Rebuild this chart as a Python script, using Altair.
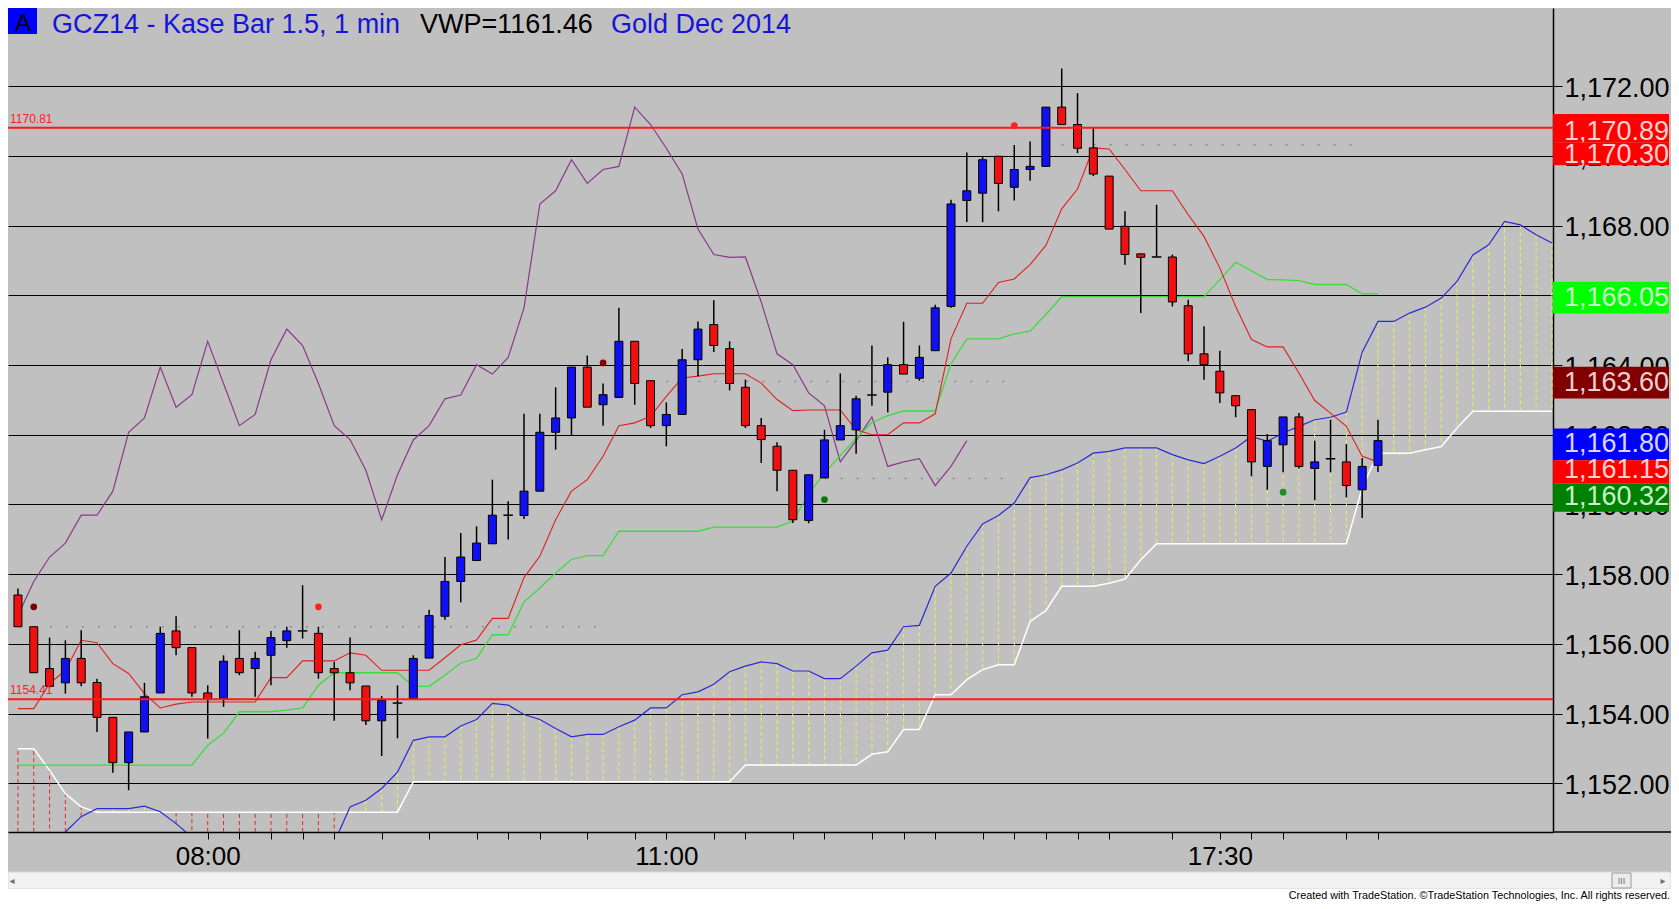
import altair as alt
import pandas as pd

# ---------------- data ----------------
opens = [1157.40, 1156.49, 1155.29, 1154.88, 1155.58, 1154.89, 1153.89, 1152.59, 1153.47, 1154.59,
         1156.37, 1155.89, 1154.59, 1154.43, 1155.58, 1155.29, 1155.67, 1156.09, 1156.37, 1156.30,
         1155.29, 1155.17, 1154.79, 1153.79, 1154.30, 1154.43, 1155.59, 1156.79, 1157.79, 1158.39,
         1158.87, 1159.69, 1159.68, 1160.38, 1162.07, 1162.48, 1163.94, 1162.86, 1163.07, 1164.68,
         1163.55, 1162.26, 1162.58, 1164.15, 1165.16, 1164.47, 1163.36, 1162.26, 1161.67, 1160.98,
         1159.54, 1160.76, 1161.85, 1162.14, 1163.14, 1163.22, 1164.01, 1163.62, 1164.41, 1165.68,
         1168.72, 1168.93, 1169.99, 1169.10, 1169.61, 1169.70, 1171.40, 1170.90, 1170.23, 1169.42,
         1167.98, 1167.19, 1167.10, 1167.10, 1165.70, 1164.32, 1163.82, 1163.12, 1162.72, 1161.09,
         1161.71, 1162.51, 1161.03, 1161.31, 1161.22, 1160.42, 1161.12]
highs = [1157.59, 1156.49, 1156.18, 1156.10, 1156.39, 1155.00, 1153.89, 1153.47, 1154.88, 1156.49,
         1156.79, 1155.89, 1154.81, 1155.67, 1156.39, 1155.77, 1156.37, 1156.49, 1157.68, 1156.49,
         1155.48, 1156.18, 1154.79, 1154.50, 1154.81, 1155.67, 1156.98, 1158.49, 1159.18, 1159.37,
         1160.71, 1160.09, 1162.60, 1162.60, 1163.36, 1163.94, 1164.27, 1163.47, 1165.64, 1164.68,
         1163.55, 1162.93, 1164.46, 1165.25, 1165.86, 1164.68, 1163.58, 1162.48, 1161.78, 1160.98,
         1160.85, 1162.14, 1163.76, 1163.12, 1164.56, 1164.22, 1165.24, 1164.56, 1165.73, 1168.74,
         1170.10, 1170.00, 1169.99, 1170.31, 1170.41, 1171.40, 1172.51, 1171.80, 1170.80, 1169.42,
         1168.41, 1167.19, 1168.60, 1167.17, 1165.87, 1165.11, 1164.41, 1163.12, 1162.72, 1162.02,
         1162.51, 1162.62, 1161.83, 1162.43, 1161.73, 1161.33, 1162.43]
lows = [1156.49, 1155.17, 1154.75, 1154.57, 1154.78, 1153.47, 1152.30, 1151.80, 1153.47, 1154.59,
        1155.67, 1154.48, 1153.28, 1154.19, 1155.10, 1154.48, 1154.81, 1155.89, 1156.15, 1155.00,
        1153.79, 1154.67, 1153.67, 1152.78, 1153.29, 1154.43, 1155.59, 1156.69, 1157.19, 1158.39,
        1158.87, 1158.99, 1159.58, 1160.38, 1161.57, 1161.98, 1162.79, 1162.26, 1163.07, 1162.86,
        1162.19, 1161.67, 1162.58, 1163.68, 1164.37, 1163.27, 1162.19, 1161.19, 1160.38, 1159.47,
        1159.46, 1160.76, 1161.85, 1161.45, 1162.83, 1162.64, 1163.74, 1163.55, 1164.41, 1165.64,
        1168.10, 1168.10, 1168.41, 1168.72, 1169.29, 1169.70, 1170.90, 1170.08, 1169.42, 1167.90,
        1166.88, 1165.49, 1167.10, 1165.68, 1164.11, 1163.58, 1162.91, 1162.50, 1160.81, 1160.42,
        1160.92, 1161.03, 1160.12, 1160.92, 1160.20, 1159.61, 1160.93]
closes = [1156.49, 1155.17, 1154.78, 1155.58, 1154.88, 1153.89, 1152.59, 1153.47, 1154.48, 1156.30,
          1155.89, 1154.59, 1154.40, 1155.50, 1155.17, 1155.58, 1156.18, 1156.37, 1156.37, 1155.17,
          1155.17, 1154.88, 1153.79, 1154.38, 1154.30, 1155.58, 1156.81, 1157.79, 1158.49, 1158.89,
          1159.69, 1159.69, 1160.38, 1162.07, 1162.48, 1163.94, 1162.79, 1163.15, 1164.68, 1163.47,
          1162.26, 1162.58, 1164.15, 1165.03, 1164.56, 1163.47, 1162.26, 1161.86, 1160.98, 1159.56,
          1160.85, 1161.85, 1162.26, 1163.03, 1163.14, 1164.01, 1163.74, 1164.22, 1165.64, 1168.62,
          1169.00, 1169.89, 1169.21, 1169.61, 1169.70, 1171.40, 1170.90, 1170.22, 1169.48, 1167.90,
          1167.17, 1167.09, 1167.10, 1165.81, 1164.32, 1164.01, 1163.20, 1162.83, 1161.22, 1161.83,
          1162.51, 1161.09, 1161.22, 1161.31, 1160.54, 1161.09, 1161.83]

tenkan = [1154.14, 1154.14, 1154.86, 1155.24, 1156.10, 1156.03, 1155.43, 1155.15, 1154.57, 1154.16,
          1154.27, 1154.33, 1154.33, 1154.33, 1154.33, 1154.33, 1155.03, 1155.03, 1155.51, 1155.51,
          1155.51, 1155.74, 1155.67, 1155.24, 1155.24, 1155.24, 1155.24, 1155.60, 1155.97, 1156.11,
          1156.73, 1156.73, 1157.90, 1158.51, 1159.56, 1160.38, 1160.71, 1161.38, 1162.26, 1162.34,
          1162.53, 1163.10, 1163.63, 1163.68, 1163.75, 1163.75, 1163.75, 1163.48, 1163.01, 1162.69,
          1162.71, 1162.71, 1162.71, 1162.14, 1162.00, 1162.00, 1162.34, 1162.34, 1162.60, 1164.75,
          1165.77, 1165.77, 1166.37, 1166.47, 1166.88, 1167.43, 1168.48, 1169.05, 1170.23, 1170.20,
          1169.61, 1169.00, 1169.00, 1169.00, 1168.31, 1167.69, 1166.78, 1165.68, 1164.73, 1164.52,
          1164.52, 1163.77, 1162.98, 1162.62, 1162.24, 1161.38, 1161.22]
kijun = [1152.52, 1152.52, 1152.52, 1152.52, 1152.52, 1152.52, 1152.52, 1152.52, 1152.52, 1152.52,
         1152.52, 1152.52, 1153.09, 1153.43, 1154.05, 1154.05, 1154.05, 1154.10, 1154.16, 1154.81,
         1155.17, 1155.17, 1155.17, 1155.17, 1155.17, 1154.78, 1154.78, 1155.10, 1155.45, 1155.58,
         1156.26, 1156.26, 1157.20, 1157.60, 1158.03, 1158.42, 1158.53, 1158.53, 1159.23, 1159.23,
         1159.23, 1159.23, 1159.23, 1159.23, 1159.35, 1159.35, 1159.35, 1159.35, 1159.35, 1159.52,
         1160.30, 1160.90, 1161.40, 1161.90, 1162.35, 1162.55, 1162.68, 1162.68, 1162.68, 1164.03,
         1164.75, 1164.75, 1164.75, 1164.89, 1164.97, 1165.45, 1165.96, 1165.96, 1165.96, 1165.96,
         1165.96, 1165.96, 1165.96, 1165.96, 1165.96, 1165.96, 1166.45, 1166.95, 1166.70, 1166.45,
         1166.44, 1166.42, 1166.31, 1166.31, 1166.31, 1166.04, 1166.04]
span_a = [1150.20, 1150.20, 1150.30, 1150.60, 1151.04, 1151.27, 1151.27, 1151.27, 1151.34, 1151.18,
          1150.84, 1150.45, 1150.40, 1150.40, 1150.40, 1150.40, 1150.40, 1150.40, 1150.40, 1150.40,
          1150.30, 1151.32, 1151.51, 1151.85, 1152.32, 1153.23, 1153.33, 1153.33, 1153.64, 1153.83,
          1154.29, 1154.24, 1153.97, 1153.83, 1153.57, 1153.33, 1153.40, 1153.40, 1153.62, 1153.81,
          1154.16, 1154.16, 1154.54, 1154.62, 1154.84, 1155.20, 1155.36, 1155.48, 1155.43, 1155.22,
          1155.22, 1155.00, 1155.00, 1155.36, 1155.74, 1155.82, 1156.49, 1156.53, 1157.65, 1158.03,
          1158.80, 1159.44, 1159.68, 1160.04, 1160.77, 1160.85, 1160.99, 1161.19, 1161.47, 1161.52,
          1161.62, 1161.62, 1161.62, 1161.43, 1161.28, 1161.17, 1161.38, 1161.62, 1161.95, 1161.81,
          1162.05, 1162.24, 1162.43, 1162.50, 1162.65, 1164.37, 1165.25, 1165.25, 1165.49, 1165.66,
          1165.92, 1166.40, 1167.16, 1167.45, 1168.12, 1168.02, 1167.74, 1167.50]
span_b = [1152.99, 1152.99, 1152.37, 1151.70, 1151.32, 1151.17, 1151.17, 1151.17, 1151.17, 1151.17,
          1151.17, 1151.17, 1151.17, 1151.17, 1151.17, 1151.17, 1151.17, 1151.17, 1151.17, 1151.17,
          1151.17, 1151.17, 1151.17, 1151.17, 1151.17, 1152.04, 1152.04, 1152.04, 1152.04, 1152.04,
          1152.04, 1152.04, 1152.04, 1152.04, 1152.04, 1152.04, 1152.04, 1152.04, 1152.04, 1152.04,
          1152.04, 1152.04, 1152.04, 1152.04, 1152.04, 1152.04, 1152.52, 1152.52, 1152.52, 1152.52,
          1152.52, 1152.52, 1152.52, 1152.52, 1152.83, 1152.90, 1153.54, 1153.54, 1154.54, 1154.54,
          1154.97, 1155.26, 1155.40, 1155.40, 1156.64, 1156.95, 1157.65, 1157.65, 1157.65, 1157.74,
          1157.86, 1158.41, 1158.87, 1158.87, 1158.87, 1158.87, 1158.87, 1158.87, 1158.87, 1158.87,
          1158.87, 1158.87, 1158.87, 1158.87, 1158.87, 1160.47, 1161.47, 1161.47, 1161.47, 1161.57,
          1161.66, 1162.19, 1162.67, 1162.67, 1162.67, 1162.67, 1162.67, 1162.67]
lag_bars = 26  # lagging span = close drawn 26 bars back

tick_bars = [12, 14, 16, 18, 20, 23, 26, 29, 31, 33, 36, 39, 41, 44, 46, 49, 51, 54, 56, 58,
             61, 63, 65, 67, 69, 73, 76, 78, 80, 84, 86]
time_label_bars = [12, 41, 76]
time_labels = ["08:00", "11:00", "17:30"]
price_ticks = [1152, 1154, 1156, 1158, 1160, 1162, 1164, 1166, 1168, 1170, 1172]

level_prices = [1170.81, 1154.41]
level_labels = ["1170.81", "1154.41"]

dot_levels = [1156.49, 1163.53, 1160.74, 1170.32]
dot_from = [0, 41, 50, 66]
dot_to = [37, 63, 63, 85]

marker_bars = [1, 19, 37, 51, 63, 80]
marker_prices = [1157.06, 1157.06, 1164.06, 1160.14, 1170.87, 1160.35]
marker_colors = ["#7a0000", "#ff2020", "#8a0000", "#007a00", "#ff2020", "#1f8f1f"]

tag_texts = ["1,170.89", "1,170.30", "1,166.05", "1,163.60", "1,161.80", "1,161.15", "1,160.32"]
tag_mid = [1170.69, 1170.03, 1165.93, 1163.49, 1161.73, 1160.98, 1160.21]
tag_top = [1171.20, 1170.39, 1166.39, 1163.95, 1162.18, 1161.27, 1160.60]
tag_bot = [1170.39, 1169.73, 1165.48, 1163.04, 1161.27, 1160.60, 1159.79]
tag_fill = ["#ff0000", "#ff0000", "#00ff00", "#800000", "#0000ff", "#ff0000", "#008000"]
tag_ink = ["#ffd2d2", "#ffd2d2", "#c8ffc8", "#f0d0d0", "#d8d8ff", "#ffd2d2", "#c8f0c8"]

title_tag = "A"
title_main = "GCZ14 - Kase Bar 1.5, 1 min"
title_vwp = "VWP=1161.46"
title_name = "Gold Dec 2014"
footer_text = "Created with TradeStation. \u00a9TradeStation Technologies, Inc. All rights reserved."

# ---------------- layout / style ----------------
W, H = 1545, 824
PAD_R, PAD_B = 118, 69
FONT = "Liberation Sans, Arial, sans-serif"
BG = "#c0c0c0"
UP, DOWN = "#1010f0", "#f01010"

xs = alt.Scale(domain=[-0.3125, 96.75], nice=False, zero=False)
ys = alt.Scale(domain=[1150.60, 1174.244], nice=False, zero=False)

label_expr = " : ".join(f"datum.value == {b} ? '{t}'" for b, t in zip(time_label_bars, time_labels)) + " : ''"
x_axis = alt.Axis(values=tick_bars, labelExpr=label_expr, orient="bottom", title=None, grid=False,
                  domainColor="black", domainWidth=1.5, tickColor="black", tickSize=7, tickWidth=1,
                  labelFont=FONT, labelFontSize=26, labelColor="black", labelPadding=4,
                  labelOverlap=False, labelFlush=False)
y_axis = alt.Axis(values=price_ticks, format=",.2f", orient="right", title=None, grid=True,
                  gridColor="black", gridWidth=1, gridOpacity=1, domainColor="black", domainWidth=1.5,
                  tickColor="black", tickSize=9, tickWidth=1, labelFont=FONT, labelFontSize=27,
                  labelColor="black", labelPadding=2, labelOffset=2, labelOverlap=False, labelFlush=False)


def X(field="i"):
    return alt.X(f"{field}:Q", scale=xs, axis=x_axis, title=None)


def Y(field):
    return alt.Y(f"{field}:Q", scale=ys, axis=y_axis, title=None)


# ---------------- frames ----------------
n = len(opens)
candles = pd.DataFrame({"i": list(range(n)), "o": opens, "h": highs, "l": lows, "c": closes})
candles["lo"] = candles[["o", "c"]].min(axis=1)
candles["hi"] = candles[["o", "c"]].max(axis=1)
candles["dir"] = ["up" if c > o else "down" for o, c in zip(opens, closes)]
bodies = candles[candles["o"] != candles["c"]]
flats = candles[candles["o"] == candles["c"]].copy()
flats["xl"] = flats["i"] - 0.3
flats["xr"] = flats["i"] + 0.3

cloud = pd.DataFrame({"i": list(range(len(span_a))), "a": span_a, "b": span_b})
cloud["col"] = ["#eeee55" if a >= b else "#dd2a2a" for a, b in zip(span_a, span_b)]

lines_df = pd.DataFrame({"i": list(range(n)), "tenkan": tenkan, "kijun": kijun})
lag_df = pd.DataFrame({"i": list(range(n - lag_bars)), "p": closes[lag_bars:]})
levels = pd.DataFrame({"p": level_prices, "lab": level_labels})
dots = pd.DataFrame({"lvl": dot_levels, "x1": dot_from, "x2": dot_to})
markers = pd.DataFrame({"i": marker_bars, "p": marker_prices, "col": marker_colors})
tags = pd.DataFrame({"k": list(range(len(tag_texts))), "txt": tag_texts, "mid": tag_mid,
                     "top": tag_top, "bot": tag_bot, "fill": tag_fill, "ink": tag_ink})
one = pd.DataFrame({"k": [0]})

# ---------------- layers ----------------
hatch = alt.Chart(cloud).mark_rule(strokeDash=[4, 3], strokeWidth=1, clip=True).encode(
    x=X(), y=Y("a"), y2="b:Q", color=alt.Color("col:N", scale=None))
span_b_line = alt.Chart(cloud).mark_line(color="#ffffff", strokeWidth=1.5, clip=True).encode(x=X(), y=Y("b"))
span_a_line = alt.Chart(cloud).mark_line(color="#2a2ad8", strokeWidth=1.2, clip=True).encode(x=X(), y=Y("a"))
dotted = alt.Chart(dots).mark_rule(color="#8a8a8a", strokeWidth=1.5, strokeDash=[2, 14], clip=True).encode(
    x=X("x1"), x2="x2:Q", y=Y("lvl"))
lag_line = alt.Chart(lag_df).mark_line(color="#8a3a8a", strokeWidth=1.2, clip=True).encode(x=X(), y=Y("p"))
kijun_line = alt.Chart(lines_df).mark_line(color="#3cdc3c", strokeWidth=1.3, clip=True).encode(x=X(), y=Y("kijun"))
tenkan_line = alt.Chart(lines_df).mark_line(color="#e02020", strokeWidth=1.1, clip=True).encode(x=X(), y=Y("tenkan"))

wicks = alt.Chart(candles).mark_rule(color="black", strokeWidth=1.5, clip=True).encode(
    x=X(), y=Y("l"), y2="h:Q")
body = alt.Chart(bodies).mark_bar(size=8, stroke="black", strokeWidth=1, clip=True).encode(
    x=X(), y=Y("lo"), y2="hi:Q",
    color=alt.Color("dir:N", scale=alt.Scale(domain=["up", "down"], range=[UP, DOWN]), legend=None))
flat_ticks = alt.Chart(flats).mark_rule(color="black", strokeWidth=1.5, clip=True).encode(
    x=X("xl"), x2="xr:Q", y=Y("o"))

level_lines = alt.Chart(levels).mark_rule(color="#ff1a1a", strokeWidth=2).encode(y=Y("p"))
level_text = alt.Chart(levels).mark_text(align="left", baseline="bottom", dy=-2, fontSize=12,
                                         font=FONT, color="#ff2020").encode(
    x=alt.value(2), y=Y("p"), text="lab:N")
marker_pts = alt.Chart(markers).mark_circle(size=45, opacity=1, clip=True).encode(
    x=X(), y=Y("p"), color=alt.Color("col:N", scale=None))

tag_box = alt.Chart(one).mark_rect(color="#0000ff").encode(
    x=alt.value(0), x2=alt.value(29), y=alt.value(0), y2=alt.value(26))
tag_letter = alt.Chart(one).mark_text(text=title_tag, fontSize=24, font=FONT, color="black",
                                      align="center", baseline="alphabetic").encode(x=alt.value(15), y=alt.value(23))
title_layers = []
for txt, col, xpos in [(title_main, "#1515d8", 44), (title_vwp, "black", 412), (title_name, "#1515d8", 603)]:
    title_layers.append(
        alt.Chart(one).mark_text(text=txt, fontSize=27, font=FONT, color=col,
                                 align="left", baseline="alphabetic").encode(x=alt.value(xpos), y=alt.value(25)))

# price tags: each box then its text, so later boxes overlap earlier texts (as in the reference)
tag_layers = []
for k in range(len(tag_texts)):
    sub = tags[tags["k"] == k]
    tag_layers.append(alt.Chart(sub).mark_rect().encode(
        x=alt.value(W), x2=alt.value(W + 116), y=Y("top"), y2="bot:Q",
        color=alt.Color("fill:N", scale=None)))
    tag_layers.append(alt.Chart(sub).mark_text(align="left", baseline="middle", fontSize=27, font=FONT).encode(
        x=alt.value(W + 11), y=Y("mid"), text="txt:N", color=alt.Color("ink:N", scale=None)))

base_ext = alt.Chart(one).mark_rule(color="black", strokeWidth=1.5).encode(
    x=alt.value(W), x2=alt.value(W + PAD_R), y=alt.value(H))
scroll = alt.Chart(one).mark_rect(color="#f2f2f2", stroke="#d6d6d6", strokeWidth=1).encode(
    x=alt.value(0), x2=alt.value(W + PAD_R), y=alt.value(H + 40), y2=alt.value(H + 57))
thumb = alt.Chart(one).mark_rect(color="#ececec", stroke="#9a9a9a", strokeWidth=1).encode(
    x=alt.value(W + 59), x2=alt.value(W + 78), y=alt.value(H + 41), y2=alt.value(H + 56))
thumb_grip = alt.Chart(one).mark_text(text="III", fontSize=9, font=FONT, color="#707070",
                                      align="center", baseline="middle").encode(x=alt.value(W + 68.5), y=alt.value(H + 49))
arrow_l = alt.Chart(one).mark_text(text="\u25c2", fontSize=10, color="#707070", font="DejaVu Sans",
                                   align="center", baseline="middle").encode(x=alt.value(4), y=alt.value(H + 49))
arrow_r = alt.Chart(one).mark_text(text="\u25b8", fontSize=10, color="#707070", font="DejaVu Sans",
                                   align="center", baseline="middle").encode(x=alt.value(W + 110), y=alt.value(H + 49))
footer_bg = alt.Chart(one).mark_rect(color="#ffffff").encode(
    x=alt.value(0), x2=alt.value(W + PAD_R), y=alt.value(H + 57), y2=alt.value(H + PAD_B))
footer = alt.Chart(one).mark_text(text=footer_text, fontSize=10.8, font=FONT,
                                  color="black", align="right", baseline="alphabetic").encode(
    x=alt.value(W + 117), y=alt.value(H + 67))

chart = alt.layer(
    hatch, span_b_line, span_a_line, dotted, lag_line, kijun_line, tenkan_line,
    wicks, body, flat_ticks, level_lines, level_text, marker_pts,
    tag_box, tag_letter, *title_layers, *tag_layers,
    base_ext, scroll, thumb, thumb_grip, arrow_l, arrow_r, footer_bg, footer,
).properties(
    width=W, height=H, background=BG,
    padding={"left": 0, "top": 0, "right": PAD_R, "bottom": PAD_B},
    autosize=alt.AutoSizeParams(type="none"),
).configure_view(stroke=None)

chart.save("out.html", embed_options={"renderer": "svg", "actions": False})
